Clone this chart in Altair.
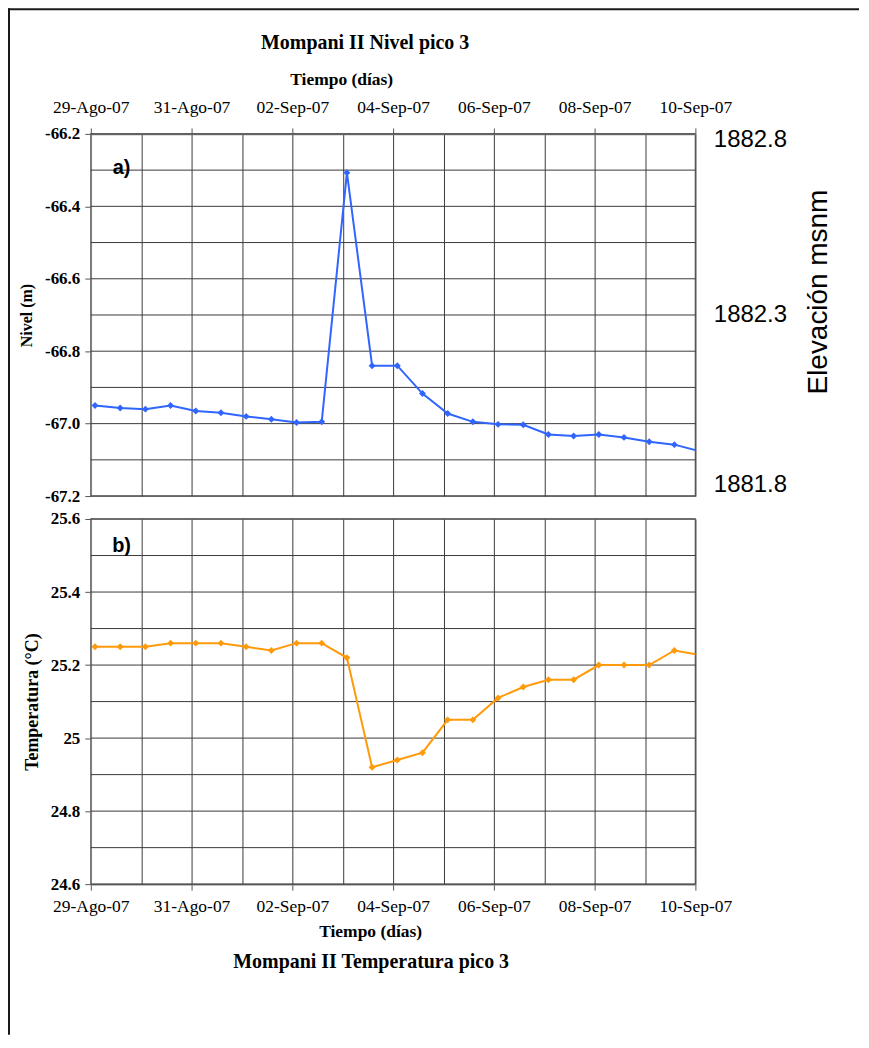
import json
import altair as alt
import pandas as pd

# ---------------- data ----------------
times = [
    "2007-08-29T02:00", "2007-08-29T14:00", "2007-08-30T02:00", "2007-08-30T14:00",
    "2007-08-31T02:00", "2007-08-31T14:00", "2007-09-01T02:00", "2007-09-01T14:00",
    "2007-09-02T02:00", "2007-09-02T14:00", "2007-09-03T02:00", "2007-09-03T14:00",
    "2007-09-04T02:00", "2007-09-04T14:00", "2007-09-05T02:00", "2007-09-05T14:00",
    "2007-09-06T02:00", "2007-09-06T14:00", "2007-09-07T02:00", "2007-09-07T14:00",
    "2007-09-08T02:00", "2007-09-08T14:00", "2007-09-09T02:00", "2007-09-09T14:00",
    "2007-09-10T02:00",
]
nivel = [
    -66.950, -66.957, -66.960, -66.950, -66.965, -66.970, -66.980, -66.988,
    -66.997, -66.995, -66.307, -66.840, -66.840, -66.917, -66.972, -66.995,
    -67.002, -67.003, -67.030, -67.034, -67.030, -67.038, -67.050, -67.058,
    -67.076,
]
temperatura = [
    25.25, 25.25, 25.25, 25.26, 25.26, 25.26, 25.25, 25.24,
    25.26, 25.26, 25.22, 24.92, 24.94, 24.96, 25.05, 25.05,
    25.11, 25.14, 25.16, 25.16, 25.20, 25.20, 25.20, 25.24,
    25.228,
]

day_ticks = [
    "2007-08-29", "2007-08-30", "2007-08-31", "2007-09-01", "2007-09-02",
    "2007-09-03", "2007-09-04", "2007-09-05", "2007-09-06", "2007-09-07",
    "2007-09-08", "2007-09-09", "2007-09-10",
]
day_labels = [
    "29-Ago-07", "", "31-Ago-07", "", "02-Sep-07", "", "04-Sep-07", "",
    "06-Sep-07", "", "08-Sep-07", "", "10-Sep-07",
]
nivel_ticks = [-67.2, -67.1, -67.0, -66.9, -66.8, -66.7, -66.6, -66.5, -66.4, -66.3, -66.2]
temp_ticks = [24.6, 24.7, 24.8, 24.9, 25.0, 25.1, 25.2, 25.3, 25.4, 25.5, 25.6]
elev_ticks = [1881.8, 1882.3, 1882.8]

panel_tags = ["a)", "b)"]
tag_time = "2007-08-29T14:40"
tag_nivel = -66.294
tag_temp = 25.526

title_top = "Mompani II Nivel pico 3"
title_bottom = "Mompani II Temperatura pico 3"
x_title = "Tiempo (días)"

BLUE = "#3066FF"
ORANGE = "#FF9A0A"
GRID = "#3a3a3a"
SERIF = "Liberation Serif"
SANS = "Liberation Sans"


def dt(s):
    y, m, d = (int(p) for p in s.split("-"))
    return alt.DateTime(year=y, month=m, date=d)


df_n = pd.DataFrame({"t": times, "nivel": nivel})
df_t = pd.DataFrame({"t": times, "temp": temperatura})
df_tag_a = pd.DataFrame({"t": [tag_time], "nivel": [tag_nivel], "tag": [panel_tags[0]]})
df_tag_b = pd.DataFrame({"t": [tag_time], "temp": [tag_temp], "tag": [panel_tags[1]]})
df_e = pd.DataFrame({"t": [day_ticks[0], day_ticks[-1]], "elev": [elev_ticks[0], elev_ticks[-1]]})
df_ng = pd.DataFrame({"nivel": nivel_ticks})
df_tg = pd.DataFrame({"temp": temp_ticks})

x_domain = [dt(day_ticks[0]), dt(day_ticks[-1])]
x_values = [dt(s) for s in day_ticks]
lab_arr = json.dumps(day_labels)
idx_expr = "round((datum.value - datetime(2007, 7, 29)) / 86400000)"
x_label_expr = f"{lab_arr}[{idx_expr}]"
x_tick_test = f"{lab_arr}[{idx_expr}] != ''"
y_tick_test = "abs(round(datum.value * 10)) % 2 == 0"

W = 606
EMPTY = alt.Data(values=[{}])


def x_axis(orient, title_x, title_y, label_pad):
    return alt.Axis(
        orient=orient, values=x_values, labelExpr=x_label_expr,
        tickOpacity={"condition": {"test": x_tick_test, "value": 1}, "value": 0},
        tickSize=6, labelPadding=label_pad, labelFontSize=17.5, labelFontWeight="normal",
        labelOverlap=False, labelFlush=False,
        title=x_title, titleX=title_x, titleY=title_y,
        titleAlign="center", titleBaseline="alphabetic",
        titleFontSize=17.5,
    )


def title_text(text, x, y):
    return alt.Chart(EMPTY).mark_text(
        text=text, font=SERIF, fontSize=20, fontWeight="bold", color="black",
        align="center", baseline="middle",
    ).encode(x=alt.value(x), y=alt.value(y))


# ---------------- top panel: nivel ----------------
x_top = alt.X("t:T", scale=alt.Scale(domain=x_domain),
              axis=x_axis("top", 251, -50, 11))
y_nivel = alt.Y(
    "nivel:Q",
    scale=alt.Scale(domain=[-67.2, -66.2], nice=False, zero=False),
    axis=alt.Axis(
        values=nivel_ticks, grid=False,
        labelExpr="abs(round(datum.value * 10)) % 2 == 0 ? replace(format(datum.value, '.1f'), '\u2212', '-') : ''",
        tickOpacity={"condition": {"test": y_tick_test, "value": 1}, "value": 0},
        tickSize=6, labelPadding=5, title="Nivel (m)", titlePadding=10,
    ),
)

grid_n = alt.Chart(df_ng).mark_rule(color=GRID, strokeWidth=1).encode(y="nivel:Q")

line_n = alt.Chart(df_n).mark_line(
    color=BLUE, strokeWidth=2, clip=True,
    point=alt.OverlayMarkDef(shape="diamond", size=48, filled=True, color=BLUE, clip=True),
).encode(x=x_top, y=y_nivel)

tag_a = alt.Chart(df_tag_a).mark_text(
    font=SANS, fontWeight="bold", fontSize=20, color="black", align="center", baseline="middle"
).encode(x="t:T", y="nivel:Q", text="tag:N")

frame = alt.Chart(EMPTY).mark_rule(color="#1a1a1a", strokeWidth=2).encode(
    x=alt.value(-82), y=alt.value(-126), y2=alt.value(903)
)
frame_top = alt.Chart(EMPTY).mark_rule(color="#1a1a1a", strokeWidth=2).encode(
    x=alt.value(-83), x2=alt.value(770), y=alt.value(-125)
)

elev = alt.Chart(df_e).mark_point(opacity=0).encode(
    x="t:T",
    y=alt.Y(
        "elev:Q",
        scale=alt.Scale(domain=[elev_ticks[0], elev_ticks[-1]], nice=False, zero=False),
        axis=alt.Axis(
            orient="right", values=elev_ticks, format=".1f", grid=False, ticks=False,
            domain=False, labelFlush=True, labelPadding=18,
            labelOffset={"condition": {"test": "datum.value > 1882.5", "value": -6}, "value": 0},
            labelFont=SANS, labelFontSize=24, labelFontWeight="normal",
            title="Elevación msnm", titleFont=SANS, titleFontSize=28,
            titleFontWeight="normal", titleAngle=270, titleX=123, titleY=158,
            titleAlign="center", titleBaseline="middle",
        ),
    ),
)

top_inner = alt.layer(grid_n, line_n, tag_a, frame, frame_top, title_text(title_top, 275, -91))
top = alt.layer(top_inner, elev).resolve_scale(y="independent").properties(width=W, height=363)

# ---------------- bottom panel: temperatura ----------------
x_bot = alt.X("t:T", scale=alt.Scale(domain=x_domain),
              axis=x_axis("bottom", 280, 52, 7))
y_temp = alt.Y(
    "temp:Q",
    scale=alt.Scale(domain=[24.6, 25.6], nice=False, zero=False),
    axis=alt.Axis(
        values=temp_ticks, grid=False,
        labelExpr="abs(round(datum.value * 10)) % 2 == 0 ? format(datum.value, '~g') : ''",
        tickOpacity={"condition": {"test": y_tick_test, "value": 1}, "value": 0},
        tickSize=6, labelPadding=5, title="Temperatura (°C)", titlePadding=9,
        titleFontSize=18,
    ),
)

grid_t = alt.Chart(df_tg).mark_rule(color=GRID, strokeWidth=1).encode(y="temp:Q")

line_t = alt.Chart(df_t).mark_line(
    color=ORANGE, strokeWidth=2, clip=True,
    point=alt.OverlayMarkDef(shape="diamond", size=48, filled=True, color=ORANGE, clip=True),
).encode(x=x_bot, y=y_temp)

tag_b = alt.Chart(df_tag_b).mark_text(
    font=SANS, fontWeight="bold", fontSize=20, color="black", align="center", baseline="middle"
).encode(x="t:T", y="temp:Q", text="tag:N")

bottom = alt.layer(grid_t, line_t, tag_b, title_text(title_bottom, 281, 444)).properties(
    width=W, height=366
)

chart = alt.vconcat(top, bottom, spacing=23, bounds="flush").properties(
    padding={"top": -3, "left": -2, "right": 0, "bottom": 0},
    autosize=alt.AutoSizeParams(type="pad"),
    background="white",
).configure_view(
    stroke="#808080", strokeWidth=1.5,
).configure_axis(
    labelFont=SERIF, labelFontSize=17, labelFontWeight="bold", labelColor="black",
    titleFont=SERIF, titleFontSize=16, titleFontWeight="bold", titleColor="black",
    grid=True, gridColor=GRID, gridWidth=1, gridOpacity=1,
    domainColor="#808080", domainWidth=1.5, tickColor="#555555", tickWidth=1,
)

chart.save("out.html", embed_options={"renderer": "svg", "actions": False})
